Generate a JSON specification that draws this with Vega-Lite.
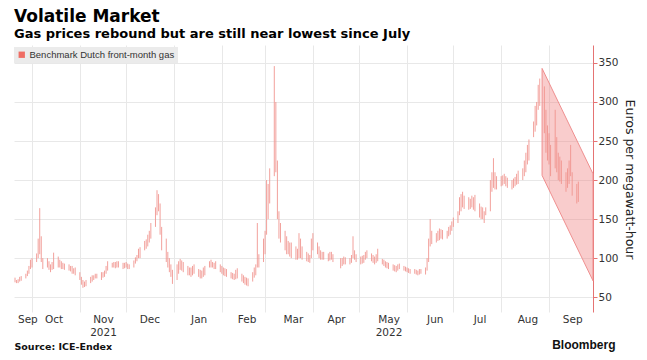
{
  "$schema": "https://vega.github.io/schema/vega-lite/v6.json",
  "width": 579,
  "height": 267,
  "autosize": {"type": "none"},
  "padding": {"left": 14, "top": 45, "right": 54, "bottom": 48},
  "background": "white",
  "config": {"view": {"stroke": null}},
  "title": {
    "text": "Volatile Market",
    "subtitle": "Gas prices rebound but are still near lowest since July",
    "anchor": "start",
    "frame": "group",
    "offset": 3,
    "font": "DejaVu Sans",
    "fontSize": 17,
    "fontWeight": "bold",
    "color": "#000000",
    "subtitleFont": "DejaVu Sans",
    "subtitleFontSize": 13,
    "subtitleFontWeight": "bold",
    "subtitleColor": "#000000",
    "subtitlePadding": 2
  },
  "datasets": {
    "chan": [
      {"d": "2022-08-27T12:00:00Z", "h": 343, "l": 206},
      {"d": "2022-09-29T12:00:00Z", "h": 208, "l": 71}
    ],
    "gas": [
      {"d":"2021-09-20","l":69,"h":75},{"d":"2021-09-21","l":68,"h":72},{"d":"2021-09-22","l":68,"h":73},{"d":"2021-09-23","l":70,"h":76},{"d":"2021-09-24","l":71,"h":77},
      {"d":"2021-09-27","l":74,"h":80},{"d":"2021-09-28","l":77,"h":84},{"d":"2021-09-29","l":80,"h":90},{"d":"2021-09-30","l":86,"h":98},{"d":"2021-10-01","l":88,"h":100},
      {"d":"2021-10-04","l":95,"h":106},{"d":"2021-10-05","l":100,"h":125},{"d":"2021-10-06","l":105,"h":164},{"d":"2021-10-07","l":95,"h":128},{"d":"2021-10-08","l":86,"h":100},
      {"d":"2021-10-11","l":88,"h":100},{"d":"2021-10-12","l":85,"h":96},{"d":"2021-10-13","l":82,"h":92},{"d":"2021-10-14","l":85,"h":95},{"d":"2021-10-15","l":86,"h":107},
      {"d":"2021-10-18","l":88,"h":102},{"d":"2021-10-19","l":88,"h":98},{"d":"2021-10-20","l":86,"h":96},{"d":"2021-10-21","l":86,"h":94},{"d":"2021-10-22","l":85,"h":93},
      {"d":"2021-10-25","l":84,"h":92},{"d":"2021-10-26","l":83,"h":90},{"d":"2021-10-27","l":80,"h":90},{"d":"2021-10-28","l":80,"h":87},{"d":"2021-10-29","l":78,"h":88},
      {"d":"2021-11-01","l":72,"h":82},{"d":"2021-11-02","l":66,"h":76},{"d":"2021-11-03","l":62,"h":72},{"d":"2021-11-04","l":63,"h":70},{"d":"2021-11-05","l":64,"h":72},
      {"d":"2021-11-08","l":68,"h":76},{"d":"2021-11-09","l":70,"h":78},{"d":"2021-11-10","l":72,"h":78},{"d":"2021-11-11","l":74,"h":80},{"d":"2021-11-12","l":74,"h":80},
      {"d":"2021-11-15","l":72,"h":82},{"d":"2021-11-16","l":75,"h":82},{"d":"2021-11-17","l":76,"h":84},{"d":"2021-11-18","l":80,"h":90},{"d":"2021-11-19","l":84,"h":96},
      {"d":"2021-11-22","l":88,"h":94},{"d":"2021-11-23","l":88,"h":95},{"d":"2021-11-24","l":87,"h":95},{"d":"2021-11-25","l":88,"h":96},{"d":"2021-11-26","l":88,"h":96},
      {"d":"2021-11-29","l":86,"h":94},{"d":"2021-11-30","l":87,"h":94},{"d":"2021-12-01","l":88,"h":95},{"d":"2021-12-02","l":86,"h":93},{"d":"2021-12-03","l":86,"h":92},
      {"d":"2021-12-06","l":88,"h":97},{"d":"2021-12-07","l":93,"h":101},{"d":"2021-12-08","l":96,"h":104},{"d":"2021-12-09","l":100,"h":112},{"d":"2021-12-10","l":100,"h":114},
      {"d":"2021-12-13","l":110,"h":122},{"d":"2021-12-14","l":112,"h":124},{"d":"2021-12-15","l":115,"h":130},{"d":"2021-12-16","l":120,"h":135},{"d":"2021-12-17","l":125,"h":145},
      {"d":"2021-12-20","l":140,"h":165},{"d":"2021-12-21","l":155,"h":187},{"d":"2021-12-22","l":160,"h":182},{"d":"2021-12-23","l":130,"h":170},{"d":"2021-12-24","l":110,"h":140},
      {"d":"2021-12-27","l":95,"h":125},{"d":"2021-12-28","l":88,"h":108},{"d":"2021-12-29","l":82,"h":100},{"d":"2021-12-30","l":76,"h":92},{"d":"2021-12-31","l":67,"h":85},
      {"d":"2022-01-03","l":72,"h":92},{"d":"2022-01-04","l":80,"h":96},{"d":"2022-01-05","l":85,"h":99},{"d":"2022-01-06","l":84,"h":97},{"d":"2022-01-07","l":82,"h":95},
      {"d":"2022-01-10","l":78,"h":90},{"d":"2022-01-11","l":78,"h":88},{"d":"2022-01-12","l":76,"h":88},{"d":"2022-01-13","l":78,"h":90},{"d":"2022-01-14","l":80,"h":92},
      {"d":"2022-01-17","l":76,"h":86},{"d":"2022-01-18","l":74,"h":85},{"d":"2022-01-19","l":74,"h":84},{"d":"2022-01-20","l":76,"h":88},{"d":"2022-01-21","l":78,"h":90},
      {"d":"2022-01-24","l":88,"h":96},{"d":"2022-01-25","l":88,"h":98},{"d":"2022-01-26","l":88,"h":95},{"d":"2022-01-27","l":86,"h":94},{"d":"2022-01-28","l":86,"h":96},
      {"d":"2022-01-31","l":82,"h":92},{"d":"2022-02-01","l":80,"h":90},{"d":"2022-02-02","l":78,"h":88},{"d":"2022-02-03","l":77,"h":87},{"d":"2022-02-04","l":76,"h":86},
      {"d":"2022-02-07","l":74,"h":82},{"d":"2022-02-08","l":73,"h":81},{"d":"2022-02-09","l":72,"h":80},{"d":"2022-02-10","l":73,"h":85},{"d":"2022-02-11","l":74,"h":87},
      {"d":"2022-02-14","l":70,"h":80},{"d":"2022-02-15","l":68,"h":78},{"d":"2022-02-16","l":66,"h":76},{"d":"2022-02-17","l":65,"h":75},{"d":"2022-02-18","l":64,"h":74},
      {"d":"2022-02-21","l":70,"h":82},{"d":"2022-02-22","l":75,"h":88},{"d":"2022-02-23","l":78,"h":92},{"d":"2022-02-24","l":88,"h":145},{"d":"2022-02-25","l":88,"h":105},
      {"d":"2022-02-28","l":95,"h":125},{"d":"2022-03-01","l":105,"h":135},{"d":"2022-03-02","l":130,"h":200},{"d":"2022-03-03","l":150,"h":195},{"d":"2022-03-04","l":170,"h":215},
      {"d":"2022-03-07","l":205,"h":346},{"d":"2022-03-08","l":210,"h":300},{"d":"2022-03-09","l":150,"h":225},{"d":"2022-03-10","l":125,"h":160},{"d":"2022-03-11","l":120,"h":145},
      {"d":"2022-03-14","l":110,"h":135},{"d":"2022-03-15","l":105,"h":128},{"d":"2022-03-16","l":105,"h":122},{"d":"2022-03-17","l":102,"h":120},{"d":"2022-03-18","l":100,"h":120},
      {"d":"2022-03-21","l":98,"h":115},{"d":"2022-03-22","l":98,"h":112},{"d":"2022-03-23","l":100,"h":132},{"d":"2022-03-24","l":100,"h":125},{"d":"2022-03-25","l":98,"h":115},
      {"d":"2022-03-28","l":96,"h":108},{"d":"2022-03-29","l":95,"h":106},{"d":"2022-03-30","l":94,"h":104},{"d":"2022-03-31","l":100,"h":125},{"d":"2022-04-01","l":110,"h":132},
      {"d":"2022-04-04","l":105,"h":120},{"d":"2022-04-05","l":100,"h":115},{"d":"2022-04-06","l":98,"h":110},{"d":"2022-04-07","l":98,"h":108},{"d":"2022-04-08","l":98,"h":108},
      {"d":"2022-04-11","l":96,"h":106},{"d":"2022-04-12","l":97,"h":108},{"d":"2022-04-13","l":98,"h":108},{"d":"2022-04-14","l":95,"h":105},
      {"d":"2022-04-19","l":87,"h":100},{"d":"2022-04-20","l":90,"h":100},{"d":"2022-04-21","l":92,"h":102},{"d":"2022-04-22","l":92,"h":101},
      {"d":"2022-04-25","l":92,"h":100},{"d":"2022-04-26","l":94,"h":104},{"d":"2022-04-27","l":100,"h":128},{"d":"2022-04-28","l":98,"h":110},{"d":"2022-04-29","l":95,"h":105},
      {"d":"2022-05-02","l":92,"h":102},{"d":"2022-05-03","l":93,"h":103},{"d":"2022-05-04","l":94,"h":104},{"d":"2022-05-05","l":98,"h":108},{"d":"2022-05-06","l":100,"h":110},
      {"d":"2022-05-09","l":96,"h":106},{"d":"2022-05-10","l":94,"h":104},{"d":"2022-05-11","l":92,"h":102},{"d":"2022-05-12","l":94,"h":105},{"d":"2022-05-13","l":96,"h":112},
      {"d":"2022-05-16","l":92,"h":99},{"d":"2022-05-17","l":90,"h":98},{"d":"2022-05-18","l":88,"h":96},{"d":"2022-05-19","l":87,"h":95},{"d":"2022-05-20","l":86,"h":94},
      {"d":"2022-05-23","l":84,"h":92},{"d":"2022-05-24","l":83,"h":91},{"d":"2022-05-25","l":82,"h":90},{"d":"2022-05-26","l":84,"h":92},{"d":"2022-05-27","l":86,"h":93},
      {"d":"2022-05-30","l":84,"h":90},{"d":"2022-05-31","l":83,"h":89},{"d":"2022-06-01","l":82,"h":88},{"d":"2022-06-02","l":81,"h":87},{"d":"2022-06-03","l":80,"h":86},
      {"d":"2022-06-06","l":80,"h":86},{"d":"2022-06-07","l":79,"h":85},{"d":"2022-06-08","l":78,"h":84},{"d":"2022-06-09","l":79,"h":86},{"d":"2022-06-10","l":80,"h":86},
      {"d":"2022-06-13","l":79,"h":88},{"d":"2022-06-14","l":84,"h":100},{"d":"2022-06-15","l":95,"h":125},{"d":"2022-06-16","l":115,"h":150},{"d":"2022-06-17","l":118,"h":135},
      {"d":"2022-06-20","l":120,"h":132},{"d":"2022-06-21","l":122,"h":135},{"d":"2022-06-22","l":123,"h":138},{"d":"2022-06-23","l":125,"h":137},{"d":"2022-06-24","l":124,"h":136},
      {"d":"2022-06-27","l":125,"h":135},{"d":"2022-06-28","l":128,"h":140},{"d":"2022-06-29","l":130,"h":142},{"d":"2022-06-30","l":135,"h":147},{"d":"2022-07-01","l":140,"h":152},
      {"d":"2022-07-04","l":145,"h":160},{"d":"2022-07-05","l":155,"h":178},{"d":"2022-07-06","l":160,"h":182},{"d":"2022-07-07","l":165,"h":185},{"d":"2022-07-08","l":163,"h":180},
      {"d":"2022-07-11","l":162,"h":178},{"d":"2022-07-12","l":163,"h":176},{"d":"2022-07-13","l":165,"h":180},{"d":"2022-07-14","l":162,"h":178},{"d":"2022-07-15","l":160,"h":181},
      {"d":"2022-07-18","l":152,"h":170},{"d":"2022-07-19","l":150,"h":166},{"d":"2022-07-20","l":150,"h":165},{"d":"2022-07-21","l":145,"h":160},{"d":"2022-07-22","l":155,"h":165},
      {"d":"2022-07-25","l":160,"h":200},{"d":"2022-07-26","l":185,"h":210},{"d":"2022-07-27","l":190,"h":228},{"d":"2022-07-28","l":188,"h":210},{"d":"2022-07-29","l":188,"h":205},
      {"d":"2022-08-01","l":192,"h":205},{"d":"2022-08-02","l":193,"h":206},{"d":"2022-08-03","l":195,"h":208},{"d":"2022-08-04","l":192,"h":205},{"d":"2022-08-05","l":190,"h":203},
      {"d":"2022-08-08","l":188,"h":200},{"d":"2022-08-09","l":190,"h":202},{"d":"2022-08-10","l":192,"h":204},{"d":"2022-08-11","l":194,"h":208},{"d":"2022-08-12","l":195,"h":212},
      {"d":"2022-08-15","l":200,"h":215},{"d":"2022-08-16","l":205,"h":225},{"d":"2022-08-17","l":210,"h":235},{"d":"2022-08-18","l":220,"h":245},{"d":"2022-08-19","l":225,"h":252},
      {"d":"2022-08-22","l":255,"h":275},{"d":"2022-08-23","l":262,"h":295},{"d":"2022-08-24","l":270,"h":300},{"d":"2022-08-25","l":290,"h":322},{"d":"2022-08-26","l":295,"h":330},
      {"d":"2022-08-29","l":260,"h":320},{"d":"2022-08-30","l":235,"h":290},{"d":"2022-08-31","l":225,"h":270},{"d":"2022-09-01","l":220,"h":260},{"d":"2022-09-02","l":205,"h":245},
      {"d":"2022-09-05","l":215,"h":290},{"d":"2022-09-06","l":210,"h":255},{"d":"2022-09-07","l":200,"h":235},{"d":"2022-09-08","l":198,"h":230},{"d":"2022-09-09","l":195,"h":225},
      {"d":"2022-09-12","l":185,"h":210},{"d":"2022-09-13","l":190,"h":215},{"d":"2022-09-14","l":195,"h":225},{"d":"2022-09-15","l":205,"h":245},{"d":"2022-09-16","l":180,"h":210},
      {"d":"2022-09-19","l":170,"h":195},{"d":"2022-09-20","l":172,"h":198}
    ]
  },
  "layer": [
    {
      "data": {"name": "chan"},
      "mark": {"type": "area", "fill": "#f08080", "fillOpacity": 0.4, "stroke": "#ef8f8f", "strokeWidth": 1},
      "encoding": {
        "x": {
          "field": "d", "type": "temporal",
          "scale": {"type": "utc", "domain": [{"year": 2021, "month": 9, "date": 19, "hours": 8, "utc": true}, {"year": 2022, "month": 9, "date": 29, "hours": 12, "utc": true}]},
          "axis": {
            "orient": "top",
            "values": [
              {"year": 2021, "month": 10, "date": 1, "utc": true},
              {"year": 2021, "month": 11, "date": 1, "utc": true},
              {"year": 2021, "month": 12, "date": 1, "utc": true},
              {"year": 2022, "month": 1, "date": 1, "utc": true},
              {"year": 2022, "month": 2, "date": 1, "utc": true},
              {"year": 2022, "month": 3, "date": 1, "utc": true},
              {"year": 2022, "month": 4, "date": 1, "utc": true},
              {"year": 2022, "month": 5, "date": 1, "utc": true},
              {"year": 2022, "month": 6, "date": 1, "utc": true},
              {"year": 2022, "month": 7, "date": 1, "utc": true},
              {"year": 2022, "month": 8, "date": 1, "utc": true},
              {"year": 2022, "month": 9, "date": 1, "utc": true}
            ],
            "grid": true, "gridColor": "#e8e8e8", "gridWidth": 1,
            "labels": false, "ticks": false, "domain": false,
            "title": "Bloomberg",
            "titleFont": "Liberation Sans", "titleFontSize": 12, "titleFontWeight": "bold", "titleColor": "#111111",
            "titleX": 601, "titleY": 303, "titleAlign": "right", "titleBaseline": "alphabetic", "titleAngle": 0
          }
        },
        "y": {
          "field": "h", "type": "quantitative",
          "scale": {"domain": [31, 373], "nice": false, "zero": false},
          "axis": {
            "orient": "right",
            "values": [50, 100, 150, 200, 250, 300, 350],
            "grid": true, "gridColor": "#e8e8e8",
            "domainColor": "#e57373", "tickColor": "#e57373", "tickSize": 4,
            "labelFont": "DejaVu Sans", "labelFontSize": 10.5, "labelColor": "#333333", "labelPadding": 1,
            "title": "Euros per megawatt-hour",
            "titleFont": "DejaVu Sans", "titleFontSize": 12.5, "titleFontWeight": "normal", "titleColor": "#222222",
            "titleAngle": 90, "titleX": 36, "titleY": 134, "titleAlign": "center", "titleBaseline": "middle"
          }
        },
        "y2": {"field": "l"}
      }
    },
    {
      "data": {"name": "gas"},
      "mark": {"type": "rule", "strokeWidth": 1, "opacity": 0.85},
      "encoding": {
        "x": {
          "field": "d", "type": "temporal",
          "scale": {"type": "utc", "domain": [{"year": 2021, "month": 9, "date": 19, "hours": 8, "utc": true}, {"year": 2022, "month": 9, "date": 29, "hours": 12, "utc": true}]},
          "axis": {
            "orient": "bottom",
            "values": [
              {"year": 2021, "month": 9, "date": 28, "utc": true},
              {"year": 2021, "month": 10, "date": 15, "utc": true},
              {"year": 2021, "month": 11, "date": 16, "utc": true},
              {"year": 2021, "month": 12, "date": 16, "utc": true},
              {"year": 2022, "month": 1, "date": 17, "utc": true},
              {"year": 2022, "month": 2, "date": 17, "utc": true},
              {"year": 2022, "month": 3, "date": 19, "utc": true},
              {"year": 2022, "month": 4, "date": 16, "utc": true},
              {"year": 2022, "month": 5, "date": 20, "utc": true},
              {"year": 2022, "month": 6, "date": 19, "utc": true},
              {"year": 2022, "month": 7, "date": 18, "utc": true},
              {"year": 2022, "month": 8, "date": 18, "utc": true},
              {"year": 2022, "month": 9, "date": 16, "utc": true}
            ],
            "labelExpr": "utcmonth(datum.value) == 10 ? ['Nov', '2021'] : utcmonth(datum.value) == 4 ? ['May', '2022'] : utcFormat(datum.value, '%b')",
            "grid": false, "ticks": false, "domain": false,
            "labelOverlap": false, "labelFlush": false,
            "labelFont": "DejaVu Sans", "labelFontSize": 10.5, "labelColor": "#333333", "labelPadding": 2, "labelLineHeight": 13,
            "title": "Source: ICE-Endex",
            "titleFont": "DejaVu Sans", "titleFontSize": 9.5, "titleFontWeight": "bold", "titleColor": "#111111",
            "titleX": 0, "titleY": 37, "titleAlign": "left", "titleBaseline": "alphabetic"
          }
        },
        "y": {
          "field": "h", "type": "quantitative",
          "scale": {"domain": [31, 373], "nice": false, "zero": false}
        },
        "y2": {"field": "l"},
        "color": {
          "datum": "Benchmark Dutch front-month gas",
          "scale": {"range": ["#f0908b"]},
          "legend": {
            "orient": "none", "legendX": 0, "legendY": 2,
            "title": null, "fillColor": "#ebebeb", "padding": 3,
            "symbolType": "square", "symbolSize": 40, "symbolFillColor": "#ef6d64", "symbolStrokeWidth": 0, "symbolOpacity": 1,
            "labelFont": "Liberation Sans", "labelFontSize": 9.5, "labelColor": "#333333", "labelOffset": 3
          }
        }
      }
    }
  ],
  "resolve": {"axis": {"x": "independent"}}
}
